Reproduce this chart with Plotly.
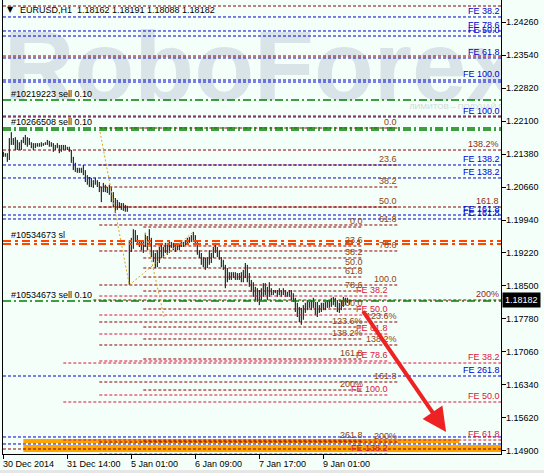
import plotly.graph_objects as go

# ---------------- data ----------------
bar_high = [1.2143,1.2140,1.2140,1.2173,1.2186,1.2173,1.2175,1.2169,1.2164,1.2169,
            1.2175,1.2180,1.2175,1.2173,1.2164,1.2162,1.2162,1.2162,1.2162,1.2164,
            1.2162,1.2164,1.2169,1.2167,1.2164,1.2162,1.2158,1.2162,1.2158,1.2158,
            1.2158,1.2158,1.2154,1.2154,1.2147,1.2132,1.2119,1.2108,1.2108,1.2108,
            1.2114,1.2103,1.2092,1.2088,1.2086,1.2081,1.2086,1.2081,1.2077,1.2066,
            1.2075,1.2071,1.2066,1.2071,1.2066,1.2055,1.2042,1.2038,1.2033,1.2031,
            1.2031,1.2027,1.2025,1.1950,1.1955,1.1974,1.1972,1.1961,1.1950,1.1946,
            1.1946,1.1966,1.1959,1.1974,1.1955,1.1928,1.1922,1.1928,1.1935,1.1944,
            1.1935,1.1944,1.1944,1.1946,1.1946,1.1944,1.1939,1.1939,1.1944,1.1950,
            1.1946,1.1950,1.1955,1.1957,1.1961,1.1968,1.1961,1.1950,1.1928,1.1922,
            1.1913,1.1911,1.1913,1.1928,1.1922,1.1935,1.1944,1.1935,1.1928,1.1913,
            1.1907,1.1896,1.1889,1.1880,1.1880,1.1880,1.1880,1.1878,1.1878,1.1880,
            1.1885,1.1900,1.1896,1.1878,1.1863,1.1858,1.1848,1.1845,1.1841,1.1845,
            1.1856,1.1856,1.1848,1.1858,1.1845,1.1841,1.1841,1.1841,1.1845,1.1841,
            1.1845,1.1841,1.1837,1.1841,1.1841,1.1834,1.1824,1.1813,1.1804,1.1802,
            1.1808,1.1813,1.1819,1.1815,1.1819,1.1824,1.1815,1.1815,1.1808,1.1813,
            1.1813,1.1815,1.1819,1.1819,1.1824,1.1826,1.1824,1.1819,1.1813,1.1819,
            1.1826,1.1824,1.1824,1.18191]
bar_low = [1.2132,1.2132,1.2121,1.2125,1.2158,1.2158,1.2147,1.2147,1.2147,1.2147,
           1.2162,1.2158,1.2154,1.2158,1.2151,1.2147,1.2151,1.2154,1.2154,1.2154,
           1.2156,1.2158,1.2158,1.2154,1.2154,1.2143,1.2147,1.2151,1.2140,1.2143,
           1.2147,1.2147,1.2147,1.2143,1.2119,1.2103,1.2099,1.2097,1.2097,1.2097,
           1.2092,1.2077,1.2071,1.2066,1.2066,1.2064,1.2071,1.2066,1.2055,1.2033,
           1.2055,1.2055,1.2053,1.2049,1.2033,1.2022,1.2009,1.2016,1.2020,1.2016,
           1.2014,1.2012,1.2012,1.1852,1.1924,1.1931,1.1946,1.1944,1.1935,1.1928,
           1.1922,1.1935,1.1928,1.1944,1.1913,1.1902,1.1889,1.1891,1.1900,1.1911,
           1.1911,1.1922,1.1918,1.1922,1.1933,1.1928,1.1924,1.1928,1.1928,1.1935,
           1.1935,1.1939,1.1939,1.1944,1.1946,1.1946,1.1939,1.1918,1.1911,1.1896,
           1.1891,1.1885,1.1889,1.1896,1.1900,1.1911,1.1922,1.1913,1.1907,1.1891,
           1.1885,1.1845,1.1858,1.1863,1.1863,1.1867,1.1863,1.1863,1.1863,1.1858,
           1.1858,1.1867,1.1858,1.1848,1.1837,1.1826,1.1819,1.1815,1.1808,1.1819,
           1.1826,1.1830,1.1819,1.1826,1.1830,1.1830,1.1834,1.1826,1.1830,1.1826,
           1.1830,1.1826,1.1826,1.1826,1.1819,1.1815,1.1793,1.1782,1.1771,1.1765,
           1.1776,1.1791,1.1797,1.1802,1.1797,1.1802,1.1786,1.1782,1.1791,1.1793,
           1.1797,1.1797,1.1802,1.1802,1.1804,1.1808,1.1804,1.1793,1.1791,1.1797,
           1.1804,1.1808,1.1813,1.18088]

x_tick_bars = [0, 32, 64, 96, 128, 160]
x_tick_labels = ["30 Dec 2014", "31 Dec 14:00", "5 Jan 01:00", "6 Jan 09:00", "7 Jan 17:00", "9 Jan 01:00"]

price_ticks = [1.2426, 1.2354, 1.2282, 1.2210, 1.2138, 1.2066, 1.1994,
               1.1922, 1.1850, 1.1778, 1.1706, 1.1634, 1.1562, 1.1490]
price_tick_labels = ["1.24260", "1.23540", "1.22820", "1.22100", "1.21380", "1.20660", "1.19940",
                     "1.19220", "1.18500", "1.17780", "1.17060", "1.16340", "1.15620", "1.14900"]

symbol_text = "EURUSD,H1  1.18162 1.18191 1.18088 1.18182"
last_price = 1.18182

# blue Fibonacci-expansion levels (full width)
blue_fe_levels = [1.24376, 1.24070, 1.23960, 1.23480, 1.22999, 1.22955, 1.22191,
                  1.21142, 1.20858, 1.20049, 1.19962, 1.16531, 1.15199, 1.15046]
blue_fe_labels = ["FE 38.2", "FE 78.6", "FE 50.0", "FE 61.8", "FE 100.0", "", "FE 100.0",
                  "FE 138.2", "FE 138.2", "FE 161.8", "FE 161.8", "FE 261.8", "", ""]

# dark red expansion levels (wide)
exp_levels = [1.24616, 1.23523, 1.22212, 1.21469, 1.20224, 1.18192, 1.14936]
exp_labels = ["", "", "", "138.2%", "161.8", "200%", ""]
exp_start_bars = [0, 0, 0, 0, 0, 45, 0]

# Fibonacci retracement 1
fib1_levels = [1.21950, 1.21142, 1.20661, 1.20224, 1.19831, 1.19263, 1.18520,
               1.17711, 1.17209, 1.16400, 1.15089]
fib1_labels = ["0.0", "23.6", "38.2", "50.0", "61.8", "78.6", "100.0",
               "123.6%", "138.2%", "161.8", "200%"]
fib1_bars = [48, 198]

# Fibonacci retracement 2
fib2_levels = [1.19787, 1.19372, 1.19110, 1.18891, 1.18694, 1.18388, 1.17995,
               1.17602, 1.17340, 1.16903, 1.16225, 1.15111]
fib2_labels = ["0.0", "23.6", "38.2", "50.0", "61.8", "78.6", "100.0",
               "123.6%", "138.2%", "161.8", "200%", "261.8"]
fib2_bars = [70, 180]

# crimson expansions
fec_levels = [1.18279, 1.17864, 1.17449, 1.16859, 1.16116, 1.14827]
fec_labels = ["FE 38.2", "FE 50.0", "FE 61.8", "FE 78.6", "FE 100.0", "FE 138.2"]
fec_bars = [48, 193]
fed_levels = [1.16815, 1.15963, 1.15133]
fed_labels = ["FE 38.2", "FE 50.0", "FE 61.8"]
fed_bars = [30, 249]

# orders
order_levels = [1.22562, 1.21950, 1.21906, 1.18170]
order_labels = ["#10219223 sell 0.10", "#10266508 sell 0.10", "", "#10534673 sell 0.10"]
sl_levels = [1.19481, 1.19416]
sl_labels = ["#10534673 sl", ""]

# target zones
zone_low = [1.15068, 1.14871]
zone_high = [1.15155, 1.15024]
zone_start = [10, 10]
zone_end = [228, 249]

# dotted trend lines (bar0, price0, bar1, price1)
trend_lines = [(48, 1.21950, 63, 1.18520),
               (63, 1.18520, 95, 1.19678),
               (71, 1.19656, 80.5, 1.17799)]

arrow_from = (179.4, 1.17974)
arrow_to = (221.4, 1.15308)

watermark_text = "RoboForex"
slogan_text = "ЛИМИТОВ – ПОЛУЧАЙ ПРИБЫЛЬ"

# ---------------- figure ----------------
FONT = "Liberation Sans, Arial, sans-serif"
BG = "#F5FFFA"
DR = "#8B0000"
BLUE = "#0000CD"
CRIM = "#DC143C"
GREEN = "#008000"
LBL = "#8B4513"
XMIN, XMAX = -0.15, 248.85
YMIN, YMAX = 1.14827, 1.24747

fig = go.Figure()

# watermark
fig.add_trace(go.Scatter(x=[129.5], y=[1.23108], mode="text", text=[watermark_text],
                         textfont=dict(size=98, color="#D9E4E8",
                                       family="Liberation Sans Narrow, Liberation Sans, sans-serif",
                                       weight="bold"),
                         hoverinfo="skip", cliponaxis=True))
fig.add_trace(go.Scatter(x=[203], y=[1.22409], mode="text",
                         text=[slogan_text], textposition="middle right",
                         textfont=dict(size=8, color="#CCD7DB", family=FONT),
                         hoverinfo="skip", cliponaxis=True))

# price bars (high-low)
bx, by = [], []
for i, (h, l) in enumerate(zip(bar_high, bar_low)):
    bx += [i, i, None]
    by += [l, h, None]
fig.add_trace(go.Scatter(x=bx, y=by, mode="lines", line=dict(color="black", width=1),
                         hoverinfo="skip"))

shapes = []
annotations = []


def hline(y, x0, x1, color, dash, width=1, full=False):
    shapes.append(dict(type="line", xref="paper" if full else "x", yref="y",
                       x0=0 if full else x0, x1=1 if full else x1, y0=y, y1=y,
                       line=dict(color=color, width=width, dash=dash)))


def label(text, x, y, color, anchor="right"):
    if not text:
        return
    annotations.append(dict(x=x, y=y, xref="x", yref="y", text=text, showarrow=False,
                            xanchor=anchor, yanchor="bottom",
                            font=dict(family=FONT, size=9, color=color),
                            borderpad=0))


# zones (below traces)
for lo, hi, s, e in zip(zone_low, zone_high, zone_start, zone_end):
    shapes.append(dict(type="rect", xref="x", yref="y", x0=s, x1=e, y0=lo, y1=hi,
                       fillcolor="#FFA500", line=dict(width=0), layer="below"))

DASH = "3px,2px"
for y, t in zip(blue_fe_levels, blue_fe_labels):
    hline(y, 0, 0, BLUE, DASH, full=True)
for y, t, s in zip(exp_levels, exp_labels, exp_start_bars):
    if s == 0:
        hline(y, 0, 0, DR, DASH, full=True)
    else:
        hline(y, s, XMAX, DR, DASH)
for y in fib1_levels:
    hline(y, fib1_bars[0], fib1_bars[1], DR, DASH)
for y in fib2_levels:
    hline(y, fib2_bars[0], fib2_bars[1], DR, DASH)
for y in fec_levels:
    hline(y, fec_bars[0], fec_bars[1], CRIM, DASH)
for y in fed_levels:
    hline(y, fed_bars[0], fed_bars[1], CRIM, DASH)
for y in order_levels:
    hline(y, 0, 0, GREEN, "8px,3px,2px,3px", width=1.5, full=True)
for y in sl_levels:
    hline(y, 0, 0, "#FF4500", "8px,4px,3px,4px", width=2, full=True)
for b0, p0, b1, p1 in trend_lines:
    shapes.append(dict(type="line", xref="x", yref="y", x0=b0, y0=p0, x1=b1, y1=p1,
                       line=dict(color="#DAA520", width=1, dash="2px,2px")))

# labels
for y, t in zip(blue_fe_levels, blue_fe_labels):
    label(t, XMAX, y, BLUE)
for y, t in zip(exp_levels, exp_labels):
    label(t, 248.35, y, "#8B2A1A")
for y, t in zip(fib1_levels, fib1_labels):
    label(t, fib1_bars[1] - 0.5, y, LBL)
for y, t in zip(fib2_levels, fib2_labels):
    label(t, fib2_bars[1] + 0.3, y, LBL)
for y, t in zip(fec_levels, fec_labels):
    label(t, fec_bars[1], y, CRIM)
for y, t in zip(fed_levels, fed_labels):
    label(t, XMAX, y, CRIM)
for y, t in zip(order_levels, order_labels):
    label(t, 3.3, y, "black", anchor="left")
for y, t in zip(sl_levels, sl_labels):
    label(t, 3.3, y, "black", anchor="left")

# arrow
annotations.append(dict(x=arrow_to[0], y=arrow_to[1], ax=arrow_from[0], ay=arrow_from[1],
                        xref="x", yref="y", axref="x", ayref="y", text="", showarrow=True,
                        arrowhead=2, arrowsize=1.2, arrowwidth=4, arrowcolor="#EE2222"))

# header
annotations.append(dict(x=0.004, y=0.979, xref="paper", yref="paper", text="▼", showarrow=False,
                        xanchor="left", yanchor="middle", font=dict(family="DejaVu Sans", size=8, color="black")))
annotations.append(dict(x=0.030, y=0.978, xref="paper", yref="paper", text=symbol_text, showarrow=False,
                        xanchor="left", yanchor="middle", font=dict(family=FONT, size=9, color="black")))

# axis tick labels (left-aligned, MetaTrader style)
for v, t in zip(price_ticks, price_tick_labels):
    annotations.append(dict(x=1.0, y=v, xref="paper", yref="y", text=t, showarrow=False,
                            xanchor="left", yanchor="middle", xshift=4, borderpad=0,
                            font=dict(family=FONT, size=9, color="black")))
for b, t in zip(x_tick_bars, x_tick_labels):
    annotations.append(dict(x=b, y=0, xref="x", yref="paper", text=t, showarrow=False,
                            xanchor="left", yanchor="top", yshift=-4, xshift=-1, borderpad=0,
                            font=dict(family=FONT, size=9, color="black")))

# last price tag
annotations.append(dict(x=1.0, y=last_price, xref="paper", yref="y", text=f"{last_price:.5f}",
                        showarrow=False, xanchor="left", yanchor="middle", xshift=1,
                        bgcolor="black", borderpad=2,
                        font=dict(family=FONT, size=9, color="white")))

# bottom grey strip
shapes.append(dict(type="rect", xref="paper", yref="paper", x0=-0.01, x1=1.1, y0=-0.05, y1=-0.035,
                   fillcolor="#E6E6E6", line=dict(width=0), layer="below"))

fig.update_layout(
    width=544, height=473,
    margin=dict(l=3, r=43, t=0, b=19, pad=0),
    paper_bgcolor=BG, plot_bgcolor=BG,
    showlegend=False, hovermode=False,
    shapes=shapes, annotations=annotations,
    xaxis=dict(range=[XMIN, XMAX], tickvals=x_tick_bars, showticklabels=False,
               ticks="outside", ticklen=4, tickcolor="black", showgrid=False, zeroline=False,
               showline=True, linecolor="black", linewidth=1),
    yaxis=dict(range=[YMIN, YMAX], side="right", tickvals=price_ticks, showticklabels=False,
               ticks="outside", ticklen=4, tickcolor="black", showgrid=False, zeroline=False,
               showline=True, linecolor="black", linewidth=1, mirror=True),
)

fig.write_html("out.html", config={"displayModeBar": False},
               post_script="document.body.style.margin='0';document.body.style.padding='0';"
                           "document.body.style.background='#F5FFFA';")
